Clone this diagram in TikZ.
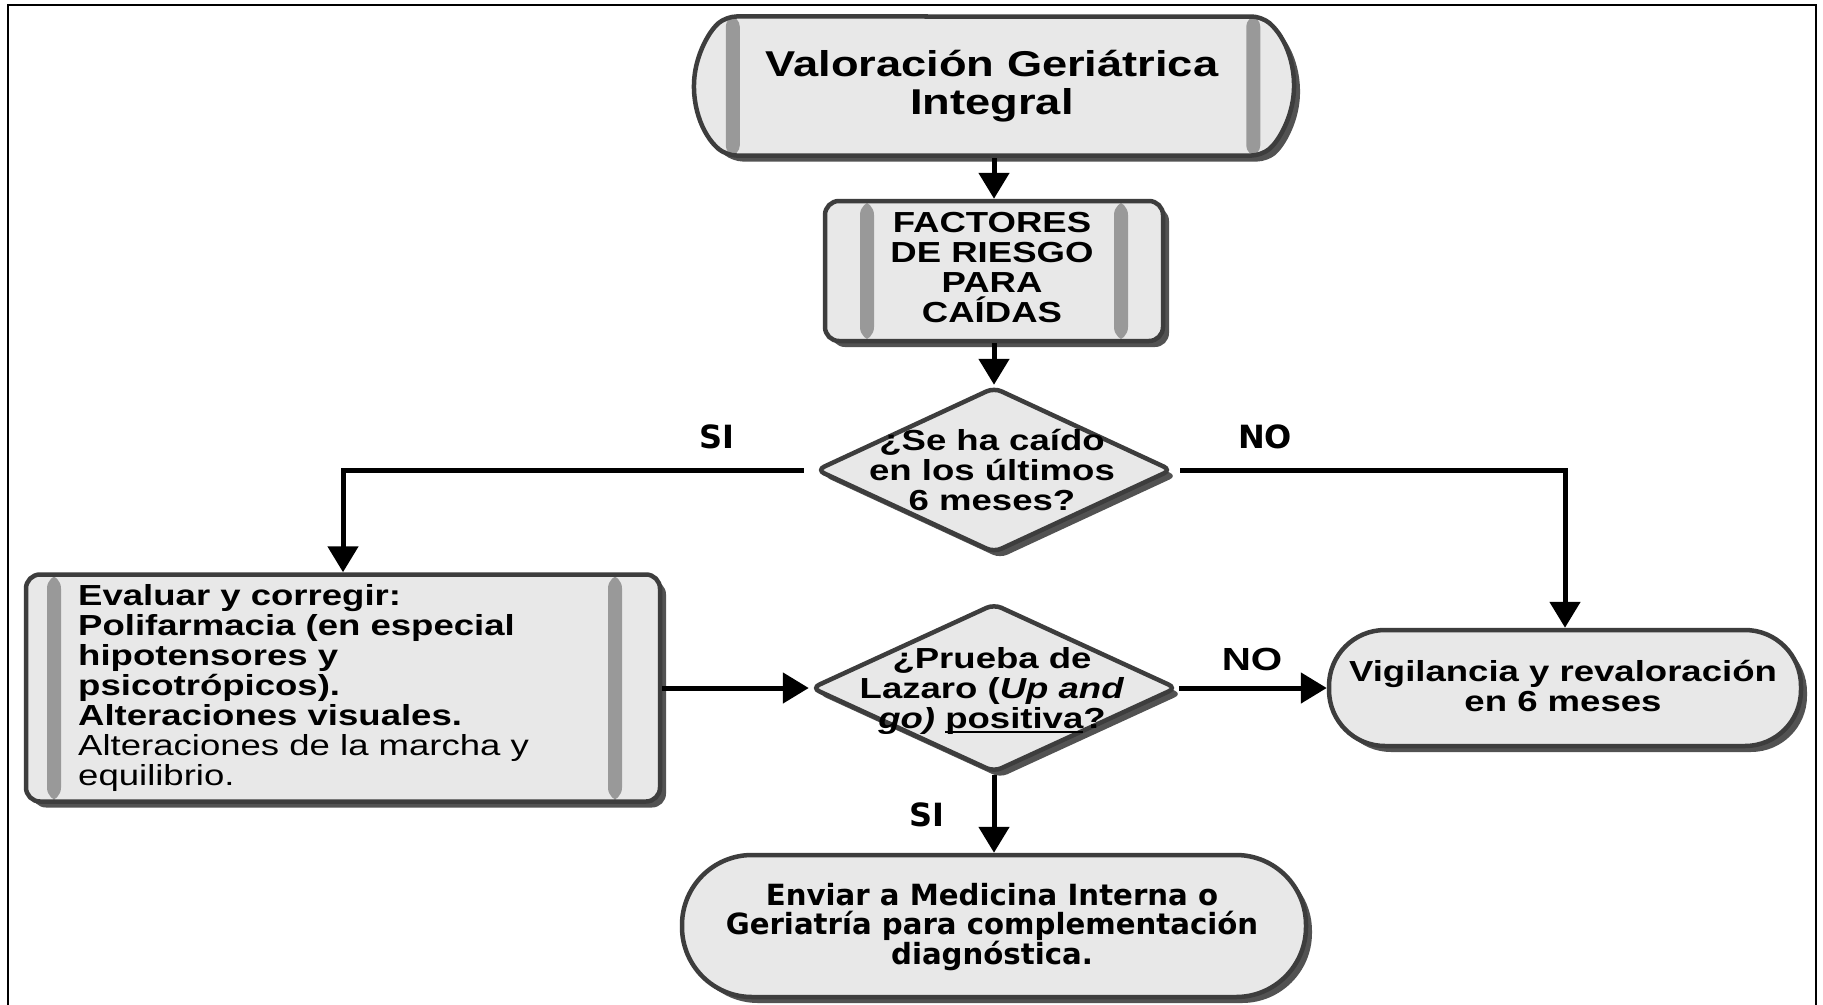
\documentclass[tikz,border=0pt]{standalone}
\usepackage{fontspec}
\setmainfont{Liberation Sans}
\newfontfamily\arf[FakeStretch=1.26]{Liberation Sans}
\newfontfamily\taf{DejaVu Sans}
\usetikzlibrary{shapes.geometric,shapes.misc,arrows.meta,shadows}
\newcommand\myul[1]{\setbox0\hbox{#1}\rlap{\rule[-4.5pt]{\wd0}{2.4pt}}\box0}
\tikzset{
  shp/.style={draw=black!76, line width=4.5pt, fill=black!9, inner sep=0pt,
    drop shadow={shadow xshift=6pt, shadow yshift=-6pt, fill=black!68, opacity=1}},
  bars/.style 2 args={path picture={
    \fill[black!40] ([xshift=#1]path picture bounding box.south west) rectangle ([xshift=#1+14pt]path picture bounding box.north west);
    \fill[black!40] ([xshift=-#2]path picture bounding box.south east) rectangle ([xshift=-#2-14pt]path picture bounding box.north east);}},
  txt/.style={inner sep=0pt, align=center},
  afont/.style={font=\arf\bfseries\fontsize{29}{30}\selectfont},
  conn/.style={line width=5pt, -{Triangle[length=26pt,width=30pt]}},
  lab/.style={inner sep=0pt, font=\taf\bfseries\fontsize{32}{34}\selectfont},
  laba/.style={inner sep=0pt, font=\arf\bfseries\fontsize{32}{34}\selectfont}
}
\begin{document}
\begin{tikzpicture}[x=1pt,y=-1pt]
\clip (0,0) rectangle (1823,1004);
\fill[white] (0,0) rectangle (1823,1004);
\draw[line width=2.3pt] (8,5) rectangle (1816,1030);

% shapes
\node[shp, rounded rectangle, rounded rectangle arc length=100, rounded corners=10pt, minimum width=600pt, minimum height=139pt, bars={36pt}{38pt}] (vgi) at (994,86) {};
\node[shp, rectangle, rounded corners=14pt, minimum width=338pt, minimum height=140pt, bars={35pt}{35pt}] (fr) at (994,271) {};
\node[shp, diamond, rounded corners=8pt, minimum width=356pt, minimum height=166pt] (d1) at (994,470) {};
\node[shp, rectangle, rounded corners=14pt, minimum width=634pt, minimum height=227pt, bars={21pt}{38pt}] (ev) at (343,688) {};
\node[shp, diamond, rounded corners=8pt, minimum width=366pt, minimum height=169pt] (d2) at (994,688) {};
\node[shp, rectangle, rounded corners=56pt, minimum width=472pt, minimum height=116pt] (vig) at (1565,688) {};
\node[shp, rectangle, rounded corners=70pt, minimum width=624pt, minimum height=142pt] (env) at (994,926) {};

% texts
\node[txt, font=\arf\bfseries\fontsize{35.9}{37.5}\selectfont] (vgit) at (992,86) {Valoración Geriátrica\\Integral};
\node[txt, afont] (frt) at (992,268) {FACTORES\\DE RIESGO\\PARA\\CAÍDAS};
\node[txt, afont] (d1t) at (992,470) {¿Se ha caído\\en los últimos\\6 meses?};
\node[inner sep=0pt, align=left, anchor=west, font=\arf\fontsize{29}{30}\selectfont] (evt) at (78,688)
  {\textbf{Evaluar y corregir:}\\\textbf{Polifarmacia (en especial}\\\textbf{hipotensores y}\\\textbf{psicotrópicos).}\\\textbf{Alteraciones visuales.}\\Alteraciones de la marcha y\\equilibrio.};
\node[txt, afont] (d2t) at (992,691) {¿Prueba de\\Lazaro (\textit{Up and}\\\textit{go)} \myul{positiva}?};
\node[txt, afont] (vigt) at (1563,686) {Vigilancia y revaloración\\en 6 meses};
\node[txt, font=\taf\bfseries\fontsize{29.2}{29.7}\selectfont] (envt) at (992,927) {Enviar a Medicina Interna o\\Geriatría para complementación\\diagnóstica.};

% connectors
\draw[conn] (vgi.south) -- (fr.north);
\draw[conn] (fr.south) -- (d1.north);
\draw[conn, shorten <=10pt] (d1.west) -| (ev.north);
\draw[conn, shorten <=6pt] (d1.east) -| (vig.north);
\draw[conn] (ev.east) -- (d2.west);
\draw[conn] (d2.east) -- (vig.west);
\draw[conn] (d2.south) -- (env.north);

% labels
\node[lab] (si1) at (717,437) {SI};
\node[lab] (no1) at (1265,437) {NO};
\node[laba] (no2) at (1252,659) {NO};
\node[lab] (si2) at (927,815) {SI};
\end{tikzpicture}
\end{document}
